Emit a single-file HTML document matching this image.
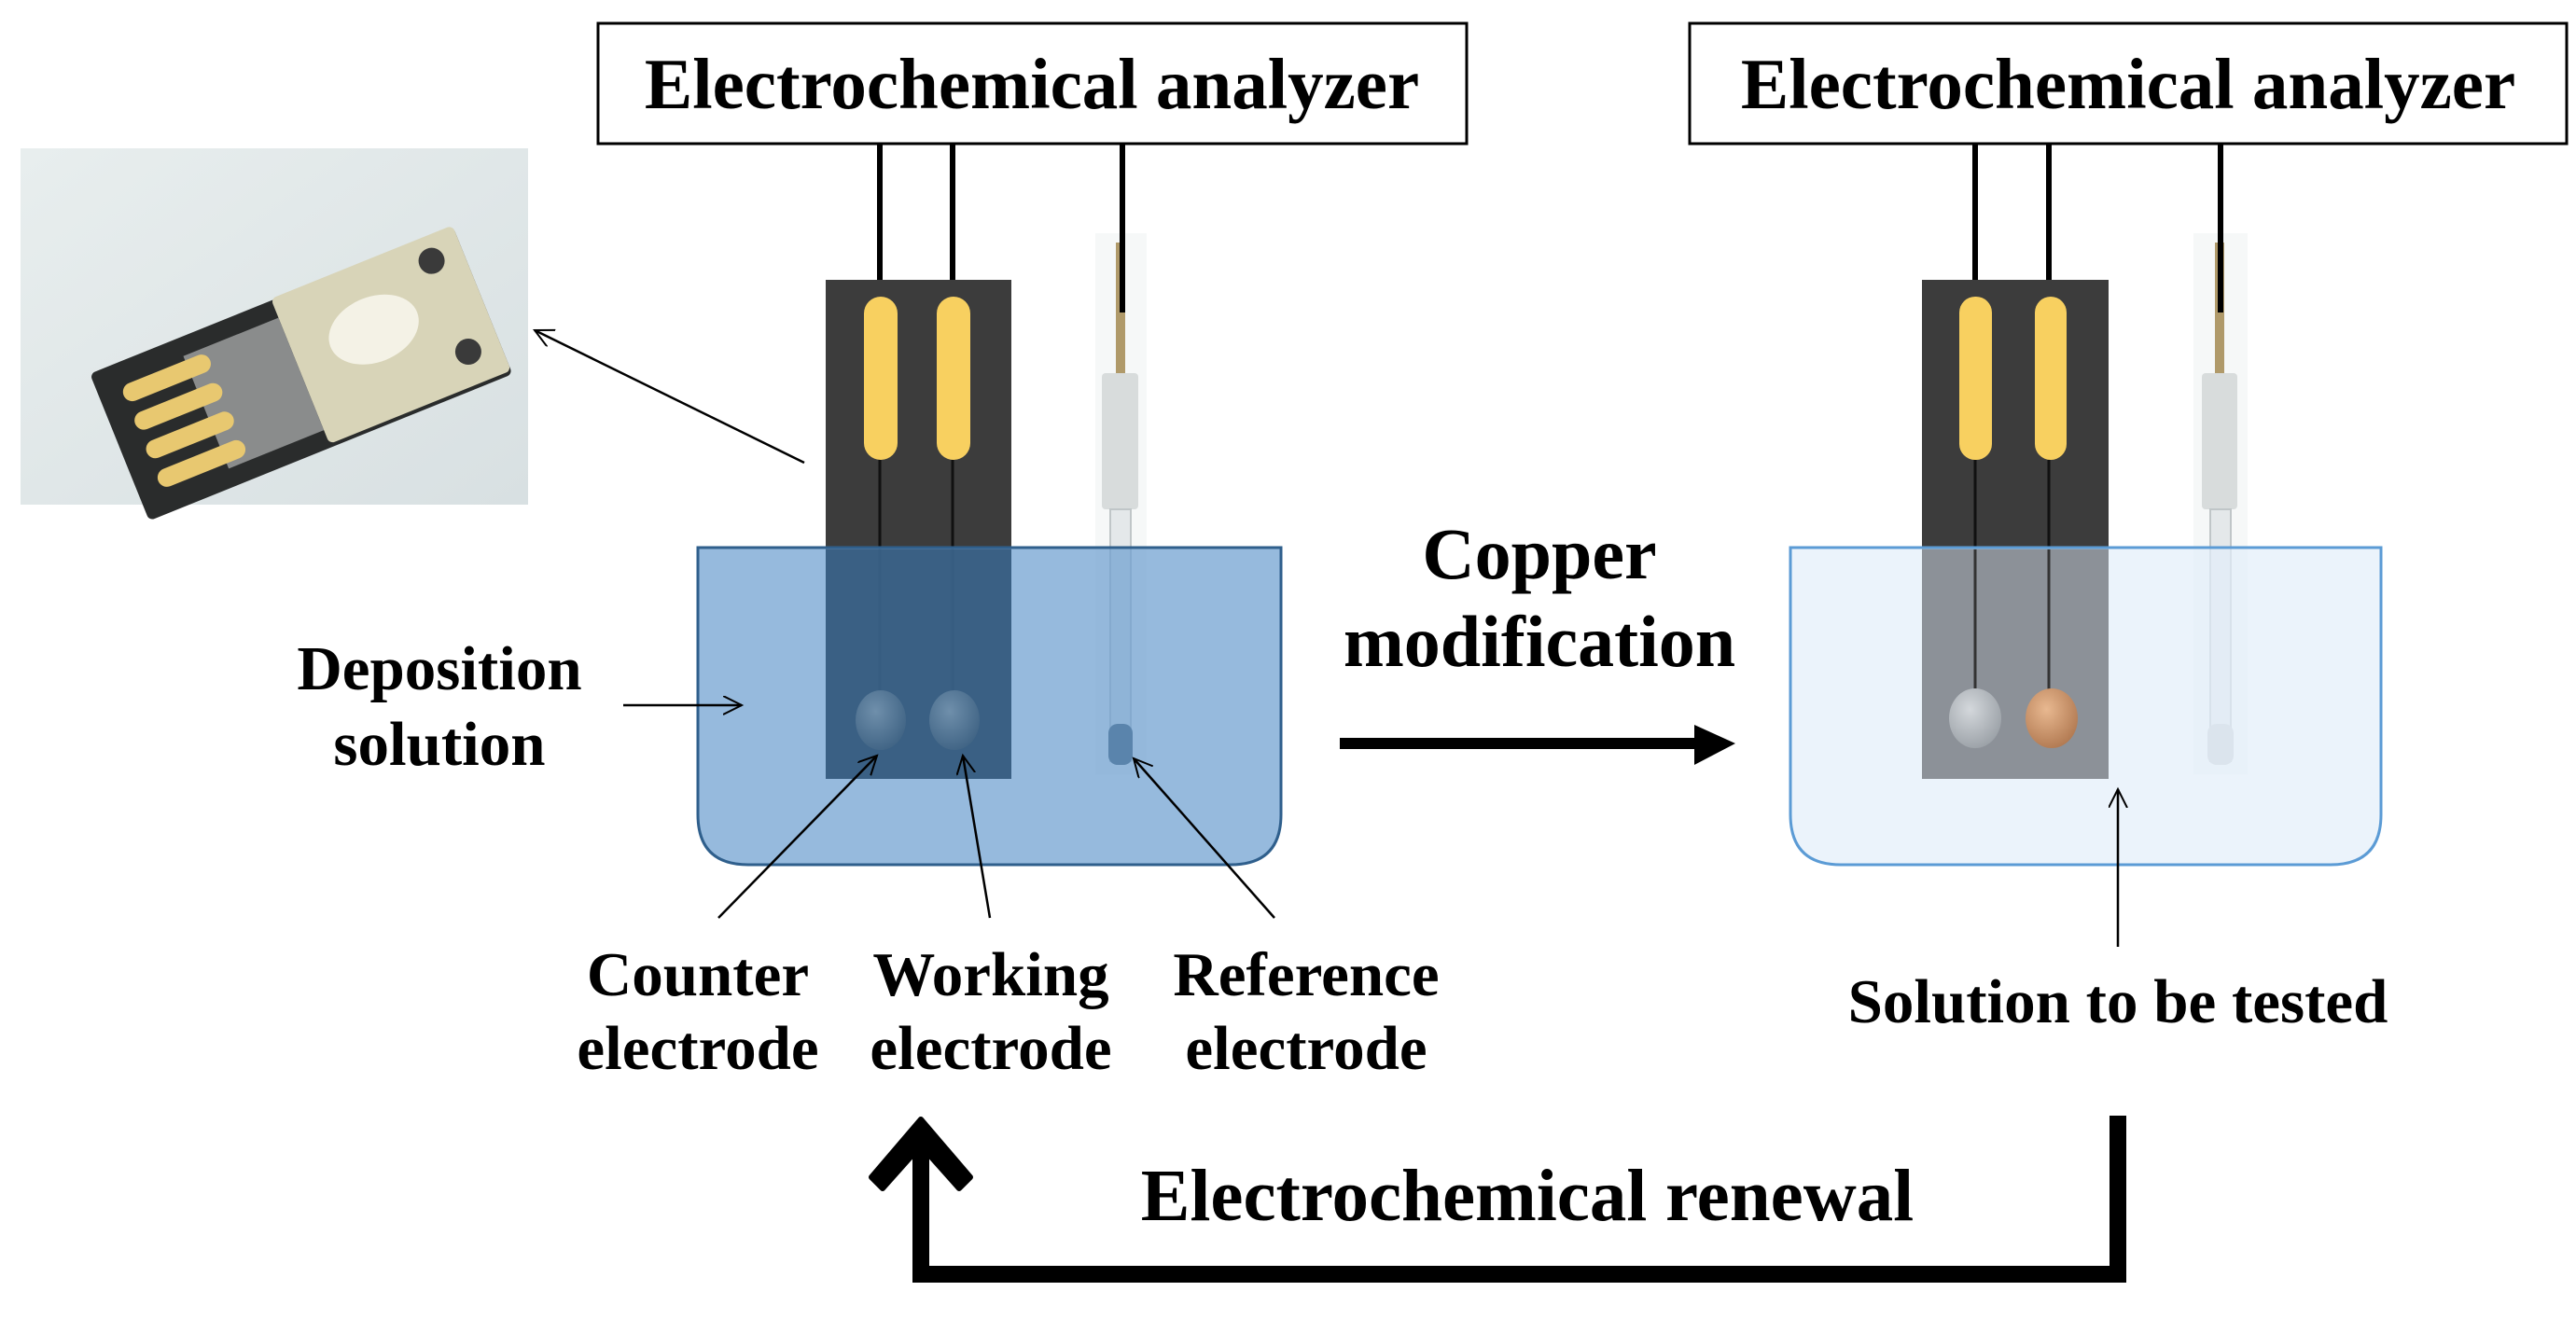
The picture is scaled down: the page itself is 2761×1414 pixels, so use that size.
<!DOCTYPE html>
<html><head><meta charset="utf-8"><style>html,body{margin:0;padding:0;background:#fff}svg{display:block}</style></head><body>
<svg width="2761" height="1414" viewBox="0 0 2761 1414" xmlns="http://www.w3.org/2000/svg" font-family="Liberation Serif, serif" font-weight="bold">
<defs>
<marker id="ah" markerWidth="30" markerHeight="30" refX="20" refY="10" orient="auto" markerUnits="userSpaceOnUse"><path d="M0,0 L20,10 L0,20" fill="none" stroke="#000" stroke-width="2"/></marker>
<linearGradient id="bg" x1="0" y1="0" x2="1" y2="1"><stop offset="0" stop-color="#e8eeee"/><stop offset="1" stop-color="#d8e0e2"/></linearGradient>
<radialGradient id="dotL" cx="0.4" cy="0.35" r="0.7"><stop offset="0" stop-color="#6f8fab"/><stop offset="1" stop-color="#3f6384"/></radialGradient>
<radialGradient id="dotS" cx="0.4" cy="0.35" r="0.7"><stop offset="0" stop-color="#d4d8dc"/><stop offset="1" stop-color="#9aa0a6"/></radialGradient>
<radialGradient id="dotC" cx="0.4" cy="0.35" r="0.7"><stop offset="0" stop-color="#e8b890"/><stop offset="1" stop-color="#b07850"/></radialGradient>
</defs>

<rect x="22" y="159" width="544" height="382" fill="url(#bg)"/>
<g transform="translate(100,410) rotate(-22)">
<rect x="0" y="-10" width="420" height="170" rx="6" fill="#2a2c2c"/>
<rect x="210" y="-12" width="210" height="168" rx="6" fill="#d8d4b8"/>
<ellipse cx="300" cy="60" rx="50" ry="35" fill="#f4f2e6"/>
<circle cx="385" cy="15" r="14" fill="#3a3a3a"/><circle cx="385" cy="120" r="14" fill="#3a3a3a"/>
<rect x="100" y="10" width="110" height="130" fill="#8a8c8c"/>
<rect x="25" y="15" width="100" height="20" rx="10" fill="#e8c870"/>
<rect x="25" y="48" width="100" height="20" rx="10" fill="#e8c870"/>
<rect x="25" y="81" width="100" height="20" rx="10" fill="#e8c870"/>
<rect x="25" y="114" width="100" height="20" rx="10" fill="#e8c870"/>
</g>

<rect x="641" y="25" width="931" height="129" fill="#fff" stroke="#000" stroke-width="3"/>
<text x="1106" y="116" font-size="77" text-anchor="middle">Electrochemical analyzer</text>
<rect x="1811" y="25" width="940" height="129" fill="#fff" stroke="#000" stroke-width="3"/>
<text x="2281" y="116" font-size="77" text-anchor="middle">Electrochemical analyzer</text>

<line x1="943" y1="154" x2="943" y2="330" stroke="#000" stroke-width="6"/>
<line x1="1021" y1="154" x2="1021" y2="330" stroke="#000" stroke-width="6"/>
<rect x="885" y="300" width="199" height="535" fill="#3c3c3c"/>
<rect x="926" y="318" width="36" height="175" rx="18" fill="#f8d060"/>
<rect x="1004" y="318" width="36" height="175" rx="18" fill="#f8d060"/>
<line x1="943" y1="493" x2="943" y2="760" stroke="#111" stroke-width="3"/>
<line x1="1021" y1="493" x2="1021" y2="760" stroke="#111" stroke-width="3"/>
<rect x="1174" y="250" width="55" height="580" fill="#f6f8f8"/>
<rect x="1196" y="260" width="10" height="140" fill="#b09a6a"/>
<rect x="1181" y="400" width="39" height="146" rx="4" fill="#d8dcdc"/>
<rect x="1190" y="546" width="22" height="270" fill="#e4e8ea" stroke="#c0c6c8" stroke-width="2"/>
<rect x="1188" y="776" width="26" height="44" rx="10" fill="#c8ccd0"/>
<line x1="1203" y1="154" x2="1203" y2="335" stroke="#000" stroke-width="6"/>
<path d="M748,587 L1373,587 L1373,873 Q1373,927 1319,927 L802,927 Q748,927 748,873 Z" fill="#6d9fd0" fill-opacity="0.72" stroke="#2f5f8c" stroke-width="3"/>
<rect x="885" y="589" width="199" height="246" fill="#2e5478" fill-opacity="0.75"/>
<ellipse cx="944" cy="772" rx="27" ry="32" fill="url(#dotL)"/>
<ellipse cx="1023" cy="772" rx="27" ry="32" fill="url(#dotL)"/>
<rect x="1188" y="776" width="26" height="44" rx="10" fill="#4f7aa2" fill-opacity="0.8"/>

<g stroke="#000" stroke-width="2.5" fill="none">
<line x1="862" y1="496" x2="573" y2="354" marker-end="url(#ah)"/>
<line x1="668" y1="756" x2="795" y2="756" marker-end="url(#ah)"/>
<line x1="770" y1="984" x2="940" y2="810" marker-end="url(#ah)"/>
<line x1="1061" y1="984" x2="1032" y2="810" marker-end="url(#ah)"/>
<line x1="1366" y1="984" x2="1215" y2="813" marker-end="url(#ah)"/>
</g>

<text x="471" y="739" font-size="67" text-anchor="middle">Deposition</text>
<text x="471" y="820" font-size="67" text-anchor="middle">solution</text>
<text x="748" y="1067" font-size="67" text-anchor="middle">Counter</text>
<text x="748" y="1146" font-size="67" text-anchor="middle">electrode</text>
<text x="1062" y="1067" font-size="67" text-anchor="middle">Working</text>
<text x="1062" y="1146" font-size="67" text-anchor="middle">electrode</text>
<text x="1400" y="1067" font-size="67" text-anchor="middle">Reference</text>
<text x="1400" y="1146" font-size="67" text-anchor="middle">electrode</text>

<text x="1650" y="620" font-size="78" text-anchor="middle">Copper</text>
<text x="1650" y="714" font-size="78" text-anchor="middle">modification</text>
<rect x="1436" y="791" width="385" height="12" fill="#000"/>
<path d="M1816,777 L1860,797 L1816,820 Z" fill="#000"/>

<line x1="2117" y1="154" x2="2117" y2="330" stroke="#000" stroke-width="6"/>
<line x1="2196" y1="154" x2="2196" y2="330" stroke="#000" stroke-width="6"/>
<rect x="2060" y="300" width="200" height="535" fill="#3c3c3c"/>
<rect x="2100" y="318" width="35" height="175" rx="17" fill="#f8d060"/>
<rect x="2181" y="318" width="34" height="175" rx="17" fill="#f8d060"/>
<line x1="2117" y1="493" x2="2117" y2="760" stroke="#111" stroke-width="3"/>
<line x1="2196" y1="493" x2="2196" y2="760" stroke="#111" stroke-width="3"/>
<rect x="2351" y="250" width="58" height="580" fill="#f6f8f8"/>
<rect x="2374" y="260" width="10" height="140" fill="#b09a6a"/>
<rect x="2360" y="400" width="38" height="146" rx="4" fill="#d8dcdc"/>
<rect x="2369" y="546" width="22" height="270" fill="#e4e8ea" stroke="#c0c6c8" stroke-width="2"/>
<rect x="2366" y="776" width="28" height="44" rx="10" fill="#c8ccd0"/>
<line x1="2380" y1="154" x2="2380" y2="335" stroke="#000" stroke-width="6"/>
<path d="M1919,587 L2552,587 L2552,873 Q2552,927 2498,927 L1973,927 Q1919,927 1919,873 Z" fill="#e3eef9" fill-opacity="0.7" stroke="#5b9bd5" stroke-width="3"/>
<rect x="2060" y="589" width="200" height="246" fill="#8c9198"/>
<line x1="2117" y1="589" x2="2117" y2="760" stroke="#333" stroke-width="3"/>
<line x1="2196" y1="589" x2="2196" y2="760" stroke="#333" stroke-width="3"/>
<ellipse cx="2117" cy="770" rx="28" ry="32" fill="url(#dotS)"/>
<ellipse cx="2199" cy="770" rx="28" ry="32" fill="url(#dotC)"/>
<line x1="2270" y1="1015" x2="2270" y2="846" stroke="#000" stroke-width="2.5" marker-end="url(#ah)"/>
<text x="2270" y="1096" font-size="67" text-anchor="middle">Solution to be tested</text>

<path d="M2270,1196 L2270,1366 L987,1366 L987,1230" fill="none" stroke="#000" stroke-width="18"/>
<path d="M987,1200 L1040,1262 L1028,1274 L987,1228 L946,1274 L934,1262 Z" fill="#000" stroke="#000" stroke-width="6" stroke-linejoin="round"/>
<text x="1637" y="1308" font-size="79" text-anchor="middle">Electrochemical renewal</text>
</svg>
</body></html>
